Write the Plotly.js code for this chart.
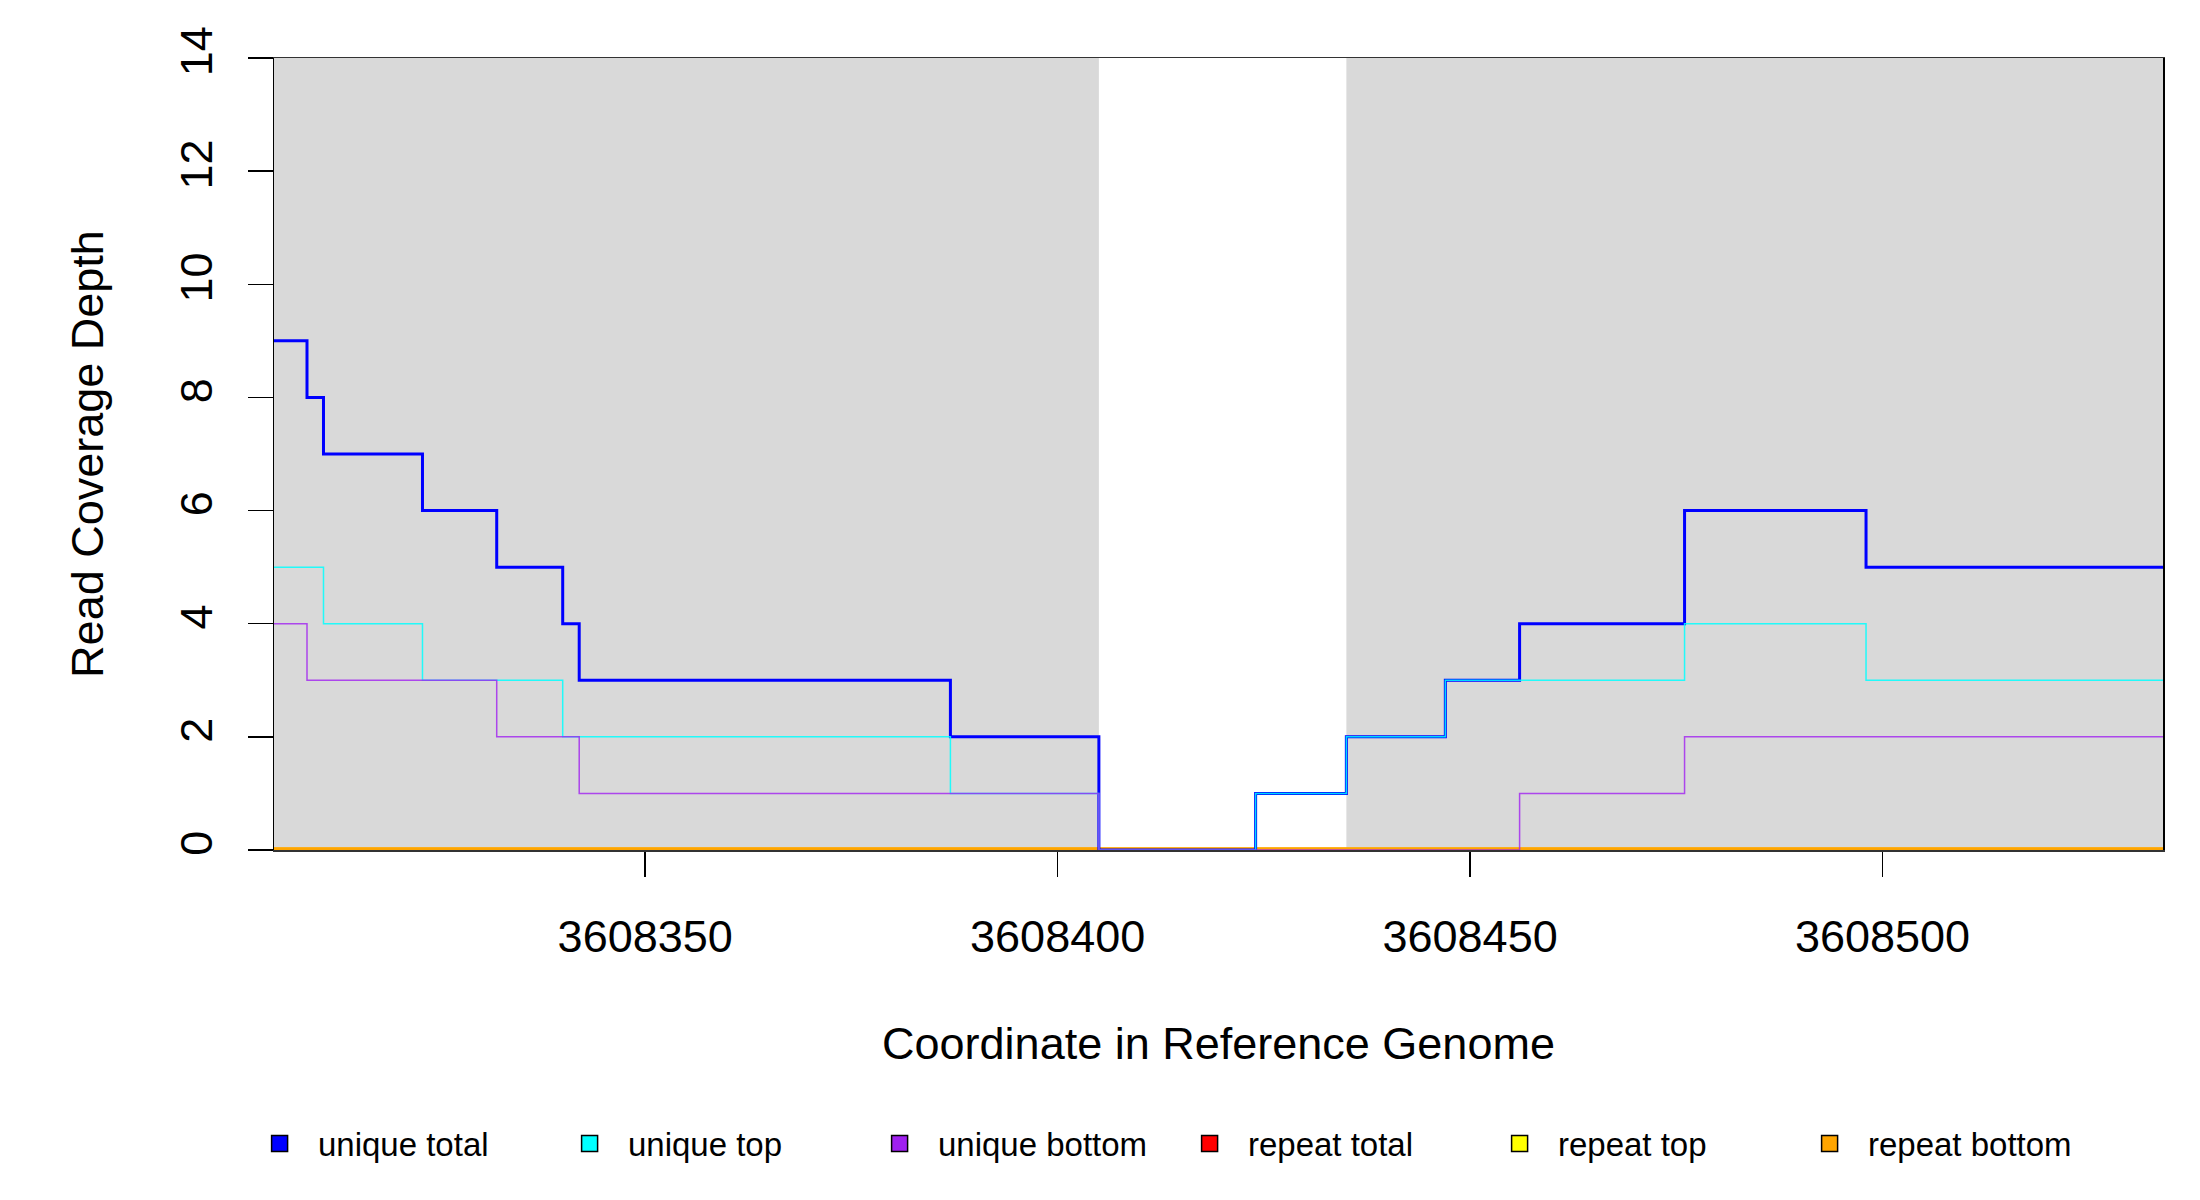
<!DOCTYPE html>
<html>
<head>
<meta charset="utf-8">
<script src="https://cdn.plot.ly/plotly-3.0.1.min.js"></script>
<style>
  html, body { margin: 0; padding: 0; background: #ffffff; }
  #plot { width: 2200px; height: 1200px; }
</style>
</head>
<body>
<div id="plot"></div>
<script>
(function () {
  "use strict";

  // Step breakpoints (genome coordinate) and coverage depth per series
  var uniqueTotalX = [3608305, 3608309, 3608311, 3608323, 3608332, 3608340, 3608342, 3608387,
    3608405, 3608424, 3608435, 3608447, 3608456, 3608476, 3608498, 3608534];
  var uniqueTotalY = [9, 8, 7, 6, 5, 4, 3, 2, 0, 1, 2, 3, 4, 6, 5, 5];

  var uniqueTopX = [3608305, 3608311, 3608323, 3608340, 3608387, 3608405, 3608424, 3608435,
    3608447, 3608476, 3608498, 3608534];
  var uniqueTopY = [5, 4, 3, 2, 1, 0, 1, 2, 3, 4, 3, 3];

  var uniqueBottomX = [3608305, 3608309, 3608332, 3608342, 3608405, 3608456, 3608476, 3608534];
  var uniqueBottomY = [4, 3, 2, 1, 0, 1, 2, 2];

  var repeatX = [3608305, 3608534];
  var repeatTotalY = [0, 0];
  var repeatTopY = [0, 0];
  var repeatBottomY = [0, 0];

  // shaded (gray) regions of the reference
  var shadeStart = [3608305, 3608435];
  var shadeEnd = [3608405, 3608534];

  var xTicks = [3608350, 3608400, 3608450, 3608500];
  var yTicks = [0, 2, 4, 6, 8, 10, 12, 14];

  var seriesNames = ["unique total", "unique top", "unique bottom",
    "repeat total", "repeat top", "repeat bottom"];
  var seriesColors = ["#0000ff", "#00ffff", "#a020f0", "#ff0000", "#ffff00", "#ffa500"];

  var FONT = "Liberation Sans, Arial, Helvetica, sans-serif";

  function stepTrace(x, y, color, width, opacity) {
    return {
      x: x,
      y: y,
      type: "scatter",
      mode: "lines",
      line: { shape: "hv", color: color, width: width },
      opacity: opacity,
      showlegend: false,
      hoverinfo: "skip"
    };
  }

  // drawn first = underneath; the zero lines are half clipped at the axis,
  // so they get a wider stroke
  var traces = [
    stepTrace(repeatX, repeatTotalY, seriesColors[3], 5, 1),
    stepTrace(repeatX, repeatTopY, seriesColors[4], 5, 1),
    stepTrace(repeatX, repeatBottomY, seriesColors[5], 5, 1),
    stepTrace(uniqueTotalX, uniqueTotalY, seriesColors[0], 3, 1),
    stepTrace(uniqueTopX, uniqueTopY, seriesColors[1], 1.5, 0.85),
    stepTrace(uniqueBottomX, uniqueBottomY, seriesColors[2], 1.5, 0.8)
  ];

  // legend-only entries with square keys
  seriesNames.forEach(function (name, i) {
    traces.push({
      x: [null],
      y: [null],
      type: "scatter",
      mode: "markers",
      name: "\u00a0\u00a0" + name,
      marker: {
        symbol: "square",
        size: 16,
        color: seriesColors[i],
        line: { color: "#000000", width: 1.5 }
      },
      showlegend: true,
      hoverinfo: "skip"
    });
  });

  var shapes = shadeStart.map(function (x0, i) {
    return {
      type: "rect",
      xref: "x",
      yref: "paper",
      x0: x0,
      x1: shadeEnd[i],
      y0: 0,
      y1: 1,
      fillcolor: "#d9d9d9",
      line: { width: 0 },
      layer: "below"
    };
  });

  var layout = {
    width: 2200,
    height: 1200,
    paper_bgcolor: "#ffffff",
    plot_bgcolor: "#ffffff",
    font: { family: FONT, color: "#000000", size: 45 },
    margin: { l: 274, r: 37, t: 58, b: 350 },
    showlegend: true,

    xaxis: {
      range: [3608305, 3608534],
      tickmode: "array",
      tickvals: xTicks,
      ticktext: xTicks.map(String),
      ticks: "outside",
      ticklen: 25,
      tickwidth: 1.5,
      tickcolor: "#000000",
      ticklabelstandoff: 21,
      tickfont: { family: FONT, size: 45, color: "#000000" },
      showgrid: false,
      zeroline: false,
      showline: true,
      mirror: true,
      linecolor: "#333333",
      linewidth: 1.5,
      layer: "below traces",
      title: {
        text: "Coordinate in Reference Genome",
        font: { family: FONT, size: 45, color: "#000000" },
        standoff: 67
      }
    },

    yaxis: {
      range: [0, 14],
      tickmode: "array",
      tickvals: yTicks,
      ticktext: yTicks.map(String),
      tickangle: -90,
      ticks: "outside",
      ticklen: 25,
      tickwidth: 1.5,
      tickcolor: "#000000",
      ticklabelstandoff: 18,
      tickfont: { family: FONT, size: 45, color: "#000000" },
      showgrid: false,
      zeroline: false,
      showline: true,
      mirror: true,
      linecolor: "#000000",
      linewidth: 1.5,
      layer: "below traces",
      title: {
        text: "Read Coverage Depth",
        font: { family: FONT, size: 45, color: "#000000" },
        standoff: 53
      }
    },

    legend: {
      orientation: "h",
      xref: "container",
      yref: "container",
      x: 0.118,
      xanchor: "left",
      y: 0.047,
      yanchor: "middle",
      entrywidth: 265,
      entrywidthmode: "pixels",
      bgcolor: "rgba(0,0,0,0)",
      borderwidth: 0,
      font: { family: FONT, size: 33, color: "#000000" }
    },

    shapes: shapes
  };

  Plotly.newPlot("plot", traces, layout, { staticPlot: true, displayModeBar: false });
})();
</script>
</body>
</html>
